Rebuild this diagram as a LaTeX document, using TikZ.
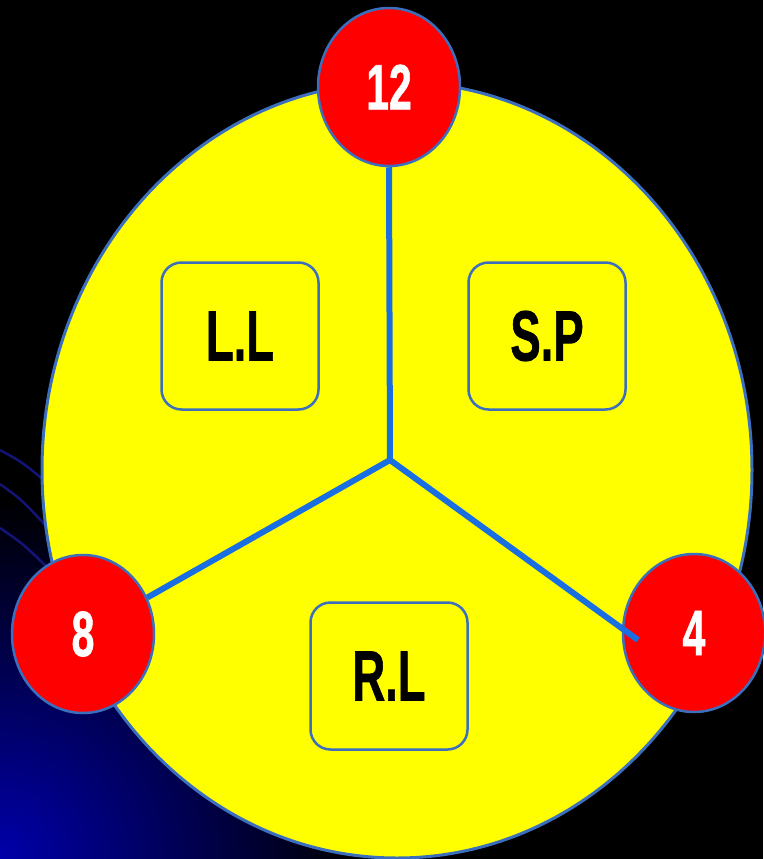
\documentclass[tikz,border=0pt]{standalone}
\usepackage{fontspec}
\setmainfont{Liberation Sans}[BoldFeatures={FakeBold=1.2}]
\usetikzlibrary{shapes.geometric}
\definecolor{edgeblue}{RGB}{60,110,190}
\definecolor{linkblue}{RGB}{25,110,225}
\definecolor{bgblue}{RGB}{0,0,170}
\definecolor{arcblue}{RGB}{20,20,120}
\definecolor{discyellow}{RGB}{255,255,0}
\tikzset{
  num/.style={ellipse, minimum width=142pt, minimum height=158pt, inner sep=0pt,
    fill=red, draw=edgeblue, line width=2.5pt, text=white,
    font=\fontsize{64}{64}\selectfont\bfseries},
  lbl/.style={rectangle, rounded corners=20pt, minimum width=157pt, minimum height=147pt,
    inner sep=0pt, draw=edgeblue, line width=2.5pt, text=black,
    font=\fontsize{71}{71}\selectfont\bfseries},
  link/.style={draw=linkblue, line width=6pt}
}
\newcommand{\narrowtxt}[1]{\scalebox{0.64}[1]{#1}}
\begin{document}
\begin{tikzpicture}[x=1pt,y=-1pt]
\useasboundingbox (0,0) rectangle (763,859);
\fill[black] (0,0) rectangle (763,859);
\begin{scope}
\clip (0,0) rectangle (763,859);
\shade[inner color=bgblue, outer color=black] (0,859) circle (360);
\end{scope}
% faint arcs at left
\draw[arcblue, line width=2.5pt] (0,450) .. controls (22,462) .. (46,482);
\draw[arcblue, line width=2.5pt] (0,484) .. controls (22,500) .. (46,526);
\draw[arcblue, line width=2.5pt] (0,528) .. controls (22,543) .. (46,566);
% main ellipse
\node[ellipse, minimum width=710pt, minimum height=776pt, inner sep=0pt,
  fill=discyellow, draw=edgeblue, line width=3pt] (disc) at (397,470) {};
% boxes
\node[lbl] (ll) at (240,336) {\narrowtxt{L.L}};
\node[lbl] (sp) at (547,336) {\narrowtxt{S.P}};
\node[lbl] (rl) at (389,676) {\narrowtxt{R.L}};
% number circles
\node[num] (n4) at (694,633) {\narrowtxt{4}};
\node[num] (n12) at (389,87) {\narrowtxt{12}};
\node[num] (n8) at (83,634) {\narrowtxt{8}};
\coordinate (c) at (390,460);
\coordinate (e4) at (638,640);
\draw[link] (n12.south) -- (c);
\draw[link] (c) -- (n8);
\draw[link] (c) -- (e4);
\end{tikzpicture}
\end{document}
